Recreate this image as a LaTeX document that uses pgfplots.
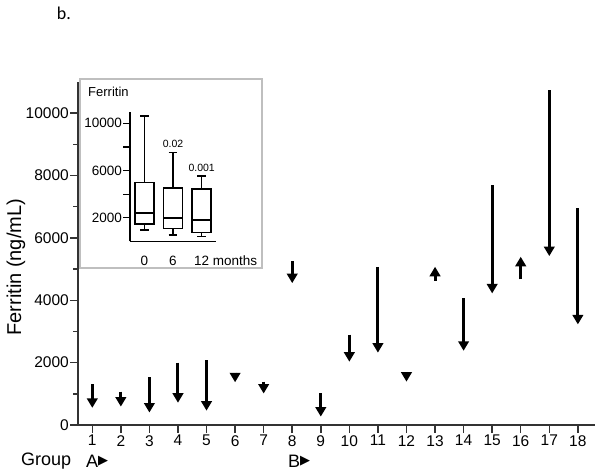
\documentclass[border=0pt]{standalone}
\usepackage{fontspec}
\setmainfont{Liberation Sans}
\newfontfamily\dejavu{DejaVu Sans}
\newfontfamily\calibri{Carlito}
\usepackage{pgfplots}
\pgfplotsset{compat=1.18}
\usepgfplotslibrary{statistics}
\usetikzlibrary{arrows.meta}
\definecolor{axisgray}{gray}{0.2}

\begin{document}
\begin{tikzpicture}[x=1pt,y=1pt]
\useasboundingbox (0,0) rectangle (600,475);
\node[font=\calibri\fontsize{18}{20}\selectfont] at (64,462) {b.};
\begin{axis}[
  at={(78pt,50pt)}, anchor=south west,
  scale only axis, width=517pt, height=343pt,
  xmin=0.5, xmax=18.6, ymin=0, ymax=11000,
  axis x line=bottom, axis y line=left,
  axis line style={-, line width=1.8pt, color=axisgray},
  tick style={line width=1.5pt, color=axisgray},
  tick align=outside,
  major tick length=8pt, minor tick length=5pt,
  xtick={1,...,18},
  ytick={0,2000,...,10000},
  minor ytick={1000,3000,...,9000},
  scaled y ticks=false,
  /pgf/number format/assume math mode=true,
  /pgf/number format/1000 sep={},
  tick label style={font=\fontsize{15.5}{18}\selectfont},
  yticklabel style={inner sep=1pt},
  xticklabel style={inner sep=2pt},
  ylabel={Ferritin (ng/mL)},
  ylabel style={at={(axis description cs:-0.12,0.46)}, anchor=center, font=\fontsize{20}{24}\selectfont},
  clip=false,
  arrowst/.style={black, line width=3pt, -{Triangle[width=10.5pt,length=9.5pt]}},
]
\addplot[arrowst] coordinates {(1,1300) (1,550)};
\addplot[arrowst] coordinates {(2,1070) (2,590)};
\addplot[arrowst] coordinates {(3,1530) (3,400)};
\addplot[arrowst] coordinates {(4,2000) (4,715)};
\addplot[arrowst] coordinates {(5,2080) (5,460)};
\addplot[arrowst] coordinates {(6,1680) (6,1370)};
\addplot[arrowst] coordinates {(7,1390) (7,1010)};
\addplot[arrowst] coordinates {(8,5250) (8,4550)};
\addplot[arrowst] coordinates {(9,1015) (9,270)};
\addplot[arrowst] coordinates {(10,2900) (10,2030)};
\addplot[arrowst] coordinates {(11,5075) (11,2320)};
\addplot[arrowst] coordinates {(12,1700) (12,1390)};
\addplot[arrowst] coordinates {(13,4625) (13,5075)};
\addplot[arrowst] coordinates {(14,4060) (14,2380)};
\addplot[arrowst] coordinates {(15,7690) (15,4220)};
\addplot[arrowst] coordinates {(16,4670) (16,5395)};
\addplot[arrowst] coordinates {(17,10737) (17,5417)};
\addplot[arrowst] coordinates {(18,6945) (18,3227)};
\end{axis}
\node[anchor=west, font=\fontsize{18}{20}\selectfont, inner sep=0pt] at (21,14) {Group};
\node[anchor=west, font=\fontsize{18}{20}\selectfont, inner sep=0pt] at (86,14) {A\raisebox{2.5pt}{\dejavu\fontsize{13}{14}\selectfont ▶}};
\node[anchor=west, font=\fontsize{18}{20}\selectfont, inner sep=0pt] at (288,14) {B\raisebox{2.5pt}{\dejavu\fontsize{13}{14}\selectfont ▶}};

\draw[black!25, line width=1.2pt, fill=white] (80,207) rectangle (262,396);
\begin{axis}[
  at={(130pt,233.7pt)}, anchor=south west,
  scale only axis, width=86pt, height=129.8pt,
  xmin=0.5, xmax=3.5, ymin=0, ymax=11000,
  axis x line=bottom, axis y line=left,
  axis line style={-, line width=1.6pt, black},
  xtick={1,2,3}, xticklabels={0,6,12\rlap{ months}},
  xtick style={draw=none},
  xticklabel style={yshift=-4pt},
  ytick={2000,4000,...,10000}, yticklabels={2000,,6000,,10000},
  scaled y ticks=false,
  tick align=outside, major tick length=7pt,
  ytick style={line width=1.2pt, black},
  yticklabel style={inner sep=1pt},
  tick label style={font=\fontsize{13.5}{15}\selectfont},
  /pgf/number format/assume math mode=true,
  boxplot/draw direction=y,
  clip=false,
]
\addplot[black, line width=1.6pt, boxplot prepared={draw position=1, lower whisker=960, lower quartile=1470, median=2420, upper quartile=5000, upper whisker=10620, box extend=0.66, whisker extend=0.3}] coordinates {};
\addplot[black, line width=1.6pt, boxplot prepared={draw position=2, lower whisker=530, lower quartile=1100, median=2000, upper quartile=4520, upper whisker=7510, box extend=0.66, whisker extend=0.3}] coordinates {};
\addplot[black, line width=1.6pt, boxplot prepared={draw position=3, lower whisker=390, lower quartile=730, median=1800, upper quartile=4430, upper whisker=5530, box extend=0.66, whisker extend=0.3}] coordinates {};
\node[font=\fontsize{10.5}{12}\selectfont] at (axis cs:2,8245) {0.02};
\node[font=\fontsize{10.5}{12}\selectfont] at (axis cs:3,6240) {0.001};
\end{axis}
\node[anchor=west, font=\fontsize{13}{14}\selectfont, inner sep=0pt] at (88,383) {Ferritin};
\end{tikzpicture}
\end{document}
